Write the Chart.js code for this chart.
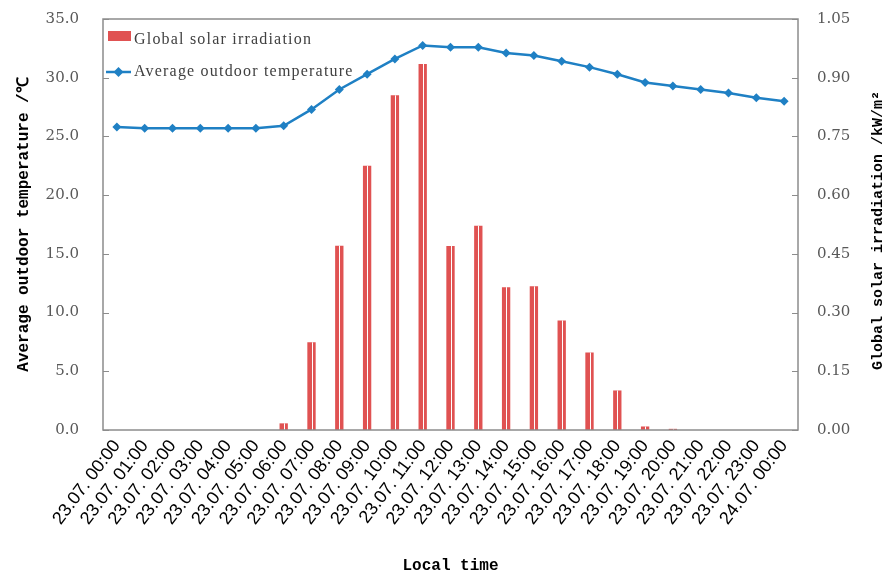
<!DOCTYPE html>
<html>
<head>
<meta charset="utf-8">
<script src="https://cdn.jsdelivr.net/npm/chart.js@4/dist/chart.umd.min.js"></script>
<style>
  html, body { margin: 0; padding: 0; background: #fff; }
  #grafico { display: block; }
</style>
</head>
<body>
<canvas id="grafico" width="890" height="578"></canvas>
<script>
// horários (eixo x)
const horarios = [
  '23.07. 00:00', '23.07. 01:00', '23.07. 02:00', '23.07. 03:00', '23.07. 04:00',
  '23.07. 05:00', '23.07. 06:00', '23.07. 07:00', '23.07. 08:00', '23.07. 09:00',
  '23.07. 10:00', '23.07. 11:00', '23.07. 12:00', '23.07. 13:00', '23.07. 14:00',
  '23.07. 15:00', '23.07. 16:00', '23.07. 17:00', '23.07. 18:00', '23.07. 19:00',
  '23.07. 20:00', '23.07. 21:00', '23.07. 22:00', '23.07. 23:00', '24.07. 00:00'
];

// radiação solar global, kW/m²
const radiacao = [
  0, 0, 0, 0, 0, 0, 0.017, 0.224, 0.471, 0.675,
  0.855, 0.935, 0.470, 0.522, 0.365, 0.367, 0.280, 0.198, 0.101, 0.009,
  0.003, 0, 0, 0, 0
];

// temperatura média externa, °C
const temperatura = [
  25.8, 25.7, 25.7, 25.7, 25.7, 25.7, 25.9, 27.3, 29.0, 30.3,
  31.6, 32.75, 32.6, 32.6, 32.1, 31.9, 31.4, 30.9, 30.3, 29.6,
  29.3, 29.0, 28.7, 28.3, 28.0
];

const ticksTemp = [0, 5, 10, 15, 20, 25, 30, 35];
const ticksRad = [0, 0.15, 0.30, 0.45, 0.60, 0.75, 0.90, 1.05];

const corBarra = '#e05252';
const corLinha = '#1f80c4';
const corEixo = '#8c8c8c';
const corTexto = '#595959';

// moldura, ticks internos, linha branca no meio das barras, legenda e título da direita
const extras = {
  id: 'extras',
  afterDatasetDraw(chart, args) {
    if (args.index !== 0) return;
    const ctx = chart.ctx;
    ctx.save();
    ctx.strokeStyle = '#fff';
    ctx.lineWidth = 1;
    args.meta.data.forEach(bar => {
      if (Math.abs(bar.base - bar.y) < 1) return;
      const x = Math.round(bar.x) + 0.5;
      ctx.beginPath();
      ctx.moveTo(x, bar.y);
      ctx.lineTo(x, bar.base);
      ctx.stroke();
    });
    ctx.restore();
  },
  afterDraw(chart) {
    const ctx = chart.ctx;
    const a = chart.chartArea;
    ctx.save();
    ctx.strokeStyle = corEixo;
    ctx.lineWidth = 1.5;
    ctx.strokeRect(a.left, a.top, a.right - a.left, a.bottom - a.top);

    // ticks para dentro
    ctx.lineWidth = 1;
    const yL = chart.scales.y, yR = chart.scales.y1;
    yL.ticks.forEach(t => {
      const py = Math.round(yL.getPixelForValue(t.value)) + 0.5;
      ctx.beginPath(); ctx.moveTo(a.left, py); ctx.lineTo(a.left + 6, py); ctx.stroke();
    });
    yR.ticks.forEach(t => {
      const py = Math.round(yR.getPixelForValue(t.value)) + 0.5;
      ctx.beginPath(); ctx.moveTo(a.right - 6, py); ctx.lineTo(a.right, py); ctx.stroke();
    });

    // legenda
    const ds = chart.data.datasets;
    ctx.font = '16px "Liberation Serif"';
    ctx.letterSpacing = '1.2px';
    ctx.textBaseline = 'middle';
    ctx.fillStyle = ds[0].backgroundColor;
    ctx.fillRect(a.left + 5, a.top + 12, 23, 10);
    ctx.fillStyle = '#404040';
    ctx.fillText(ds[0].label, a.left + 31, a.top + 21);

    const ly = a.top + 53;
    ctx.strokeStyle = ds[1].borderColor;
    ctx.lineWidth = 2.5;
    ctx.beginPath(); ctx.moveTo(a.left + 3, ly); ctx.lineTo(a.left + 28, ly); ctx.stroke();
    ctx.fillStyle = ds[1].borderColor;
    ctx.beginPath();
    ctx.moveTo(a.left + 15.5, ly - 5); ctx.lineTo(a.left + 20.5, ly);
    ctx.lineTo(a.left + 15.5, ly + 5); ctx.lineTo(a.left + 10.5, ly);
    ctx.closePath(); ctx.fill();
    ctx.fillStyle = '#404040';
    ctx.fillText(ds[1].label, a.left + 31, ly);
    ctx.letterSpacing = '0px';

    // título do eixo direito (lido de baixo para cima)
    ctx.translate(chart.width - 12, (a.top + a.bottom) / 2 + 6);
    ctx.rotate(-Math.PI / 2);
    ctx.textAlign = 'center';
    ctx.fillStyle = '#000';
    ctx.font = 'bold 15px "Liberation Mono"';
    ctx.fillText('Global solar irradiation /kW/m²', 0, 0);
    ctx.restore();
  }
};

const ctx = document.getElementById('grafico').getContext('2d');
new Chart(ctx, {
  type: 'bar',
  data: {
    labels: horarios,
    datasets: [{
      type: 'bar',
      label: 'Global solar irradiation',
      data: radiacao,
      yAxisID: 'y1',
      backgroundColor: corBarra,
      barPercentage: 0.3,
      categoryPercentage: 1,
      order: 2
    }, {
      type: 'line',
      label: 'Average outdoor temperature',
      data: temperatura,
      yAxisID: 'y',
      borderColor: corLinha,
      backgroundColor: corLinha,
      borderWidth: 2.5,
      pointStyle: 'rectRot',
      pointRadius: 4.5,
      pointBorderWidth: 0,
      tension: 0,
      order: 1
    }]
  },
  options: {
    responsive: false,
    animation: false,
    layout: { padding: { top: 19, right: 0, left: 0, bottom: 0 } },
    plugins: {
      legend: { display: false },
      tooltip: { enabled: false }
    },
    scales: {
      x: {
        grid: { display: false, drawTicks: false },
        border: { display: false },
        afterFit: s => { s.height = 148; s.paddingLeft = 0; s.paddingRight = 0; },
        ticks: {
          maxRotation: 53, minRotation: 53, autoSkip: false,
          color: '#000', padding: 6,
          font: { family: '"Liberation Sans"', size: 18 }
        },
        title: {
          display: true, text: 'Local time', color: '#000',
          font: { family: '"Liberation Mono"', size: 16, weight: 'bold' },
          padding: { top: 10, bottom: 2 }
        }
      },
      y: {
        position: 'left',
        min: 0, max: 35,
        afterBuildTicks: s => { s.ticks = ticksTemp.map(v => ({ value: v })); },
        afterFit: s => { s.width = 103; s.paddingTop = 0; s.paddingBottom = 0; },
        grid: { display: false, drawTicks: false },
        border: { display: false },
        ticks: {
          color: corTexto, padding: 24,
          font: { family: '"DejaVu Serif"', size: 15 },
          callback: v => Number(v).toFixed(1)
        },
        title: {
          display: true, text: 'Average outdoor temperature /℃', color: '#000',
          font: { family: '"Liberation Mono"', size: 16, weight: 'bold' },
          padding: { top: 14, bottom: 4 }
        }
      },
      y1: {
        position: 'right',
        min: 0, max: 1.05,
        afterBuildTicks: s => { s.ticks = ticksRad.map(v => ({ value: v })); },
        afterFit: s => { s.width = 92; s.paddingTop = 0; s.paddingBottom = 0; },
        grid: { display: false, drawTicks: false },
        border: { display: false },
        ticks: {
          color: corTexto, padding: 19,
          font: { family: '"DejaVu Serif"', size: 15 },
          callback: v => Number(v).toFixed(2)
        }
      }
    }
  },
  plugins: [extras]
});
</script>
</body>
</html>
